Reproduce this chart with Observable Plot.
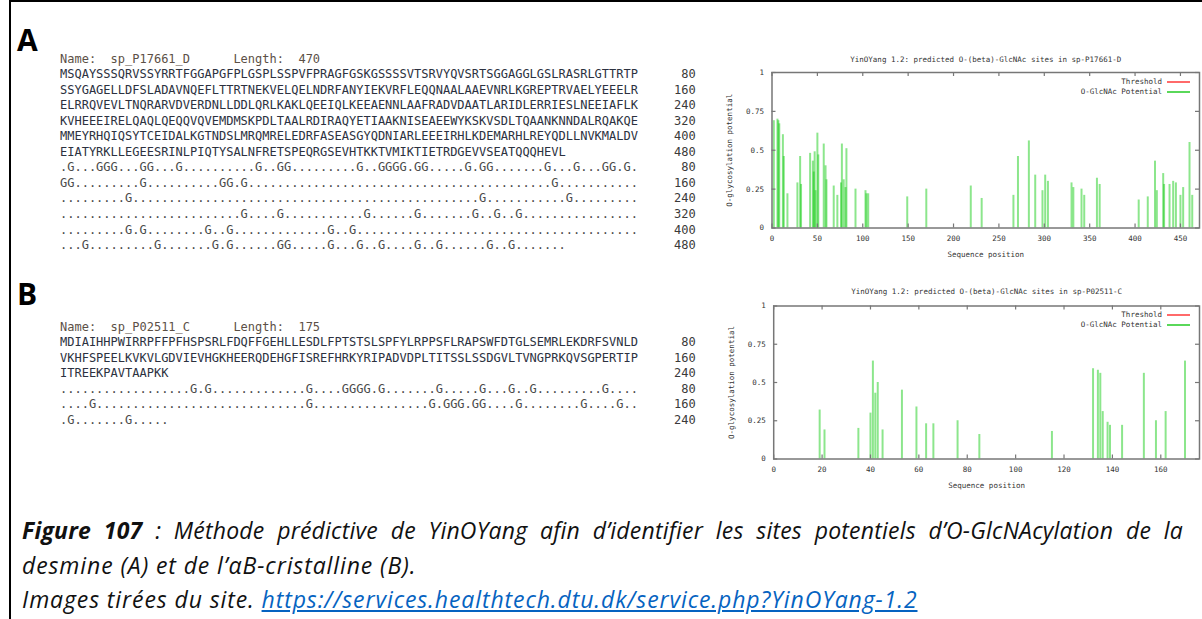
<!DOCTYPE html>
<html><head><meta charset="utf-8">
<script src="https://cdn.jsdelivr.net/npm/d3@7"></script>
<script src="https://cdn.jsdelivr.net/npm/@observablehq/plot@0.6"></script>
<style>
body{margin:0;background:#fff;}
#page{position:relative;width:1202px;height:619px;overflow:hidden;background:#fff;}
#border{position:absolute;left:9px;top:0;width:1200px;height:700px;border-left:2px solid #000;border-top:2px solid #000;}
.seq{position:absolute;left:60px;margin:0;font-family:"DejaVu Sans Mono",monospace;font-size:12px;line-height:15.55px;white-space:pre;color:#333;}
.seq .nm{color:#5c5046;} .seq .aa{color:#2c3140;} .seq .gl{color:#4a4a4a;} .seq .num{color:#3a3a3a;}
.panel{position:absolute;left:17px;font-family:"Open Sans",sans-serif;font-weight:700;font-size:30px;line-height:30px;color:#000;}
.chart{position:absolute;left:720px;}
.legt{position:absolute;right:40px;font-family:"DejaVu Sans Mono",monospace;font-size:7.5px;line-height:10px;color:#333;text-align:right;white-space:nowrap;}
.legl{position:absolute;left:1167px;width:23px;height:2px;z-index:5;}
.cap{position:absolute;left:22px;font-family:"Open Sans",sans-serif;font-style:italic;font-size:23px;letter-spacing:0.9px;line-height:35px;color:#111;white-space:nowrap;}
.cap a{color:#0563c1;text-decoration:underline;}
</style></head>
<body><div id="page"><div id="border"></div></div>
<script>
// ---------- data ----------
const nameA = "Name:  sp_P17661_D      Length:  470";
const seqA = [
  "MSQAYSSSQRVSSYRRTFGGAPGFPLGSPLSSPVFPRAGFGSKGSSSSVTSRVYQVSRTSGGAGGLGSLRASRLGTTRTP",
  "SSYGAGELLDFSLADAVNQEFLTTRTNEKVELQELNDRFANYIEKVRFLEQQNAALAAEVNRLKGREPTRVAELYEEELR",
  "ELRRQVEVLTNQRARVDVERDNLLDDLQRLKAKLQEEIQLKEEAENNLAAFRADVDAATLARIDLERRIESLNEEIAFLK",
  "KVHEEEIRELQAQLQEQQVQVEMDMSKPDLTAALRDIRAQYETIAAKNISEAEEWYKSKVSDLTQAANKNNDALRQAKQE",
  "MMEYRHQIQSYTCEIDALKGTNDSLMRQMRELEDRFASEASGYQDNIARLEEEIRHLKDEMARHLREYQDLLNVKMALDV",
  "EIATYRKLLEGEESRINLPIQTYSALNFRETSPEQRGSEVHTKKTVMIKTIETRDGEVVSEATQQQHEVL"
];
const glycA = [
  ".G...GGG...GG...G..........G..GG.........G..GGGG.GG.....G.GG.......G...G...GG.G.",
  "GG.........G..........GG.G..........................................G...........",
  ".........G................................................G...........G.........",
  ".........................G....G...........G......G.......G..G..G................",
  ".........G.G........G..G.............G..G.......................................",
  "...G.........G.......G.G......GG.....G...G..G....G..G......G..G......."
];
const rowNumsA = [80, 160, 240, 320, 400, 480];

const nameB = "Name:  sp_P02511_C      Length:  175";
const seqB = [
  "MDIAIHHPWIRRPFFPFHSPSRLFDQFFGEHLLESDLFPTSTSLSPFYLRPPSFLRAPSWFDTGLSEMRLEKDRFSVNLD",
  "VKHFSPEELKVKVLGDVIEVHGKHEERQDEHGFISREFHRKYRIPADVDPLTITSSLSSDGVLTVNGPRKQVSGPERTIP",
  "ITREEKPAVTAAPKK"
];
const glycB = [
  "..................G.G.............G....GGGG.G.......G.....G...G..G.........G....",
  "....G.............................G................G.GGG.GG....G........G....G..",
  ".G.......G....."
];
const rowNumsB = [80, 160, 240];

// Chart A: desmin, potentials per S/T position
const posA = [2,6,7,8,12,13,17,28,31,32,42,45,46,47,48,50,51,57,59,60,68,72,76,77,79,81,82,92,103,104,106,149,170,219,231,266,271,283,290,298,301,304,330,332,341,344,358,361,404,414,422,424,431,432,438,442,445,450,453,460,463];
const valA = [0.69,0.70,0.69,0.67,0.60,0.46,0.22,0.29,0.46,0.28,0.48,0.43,0.36,0.49,0.24,0.61,0.47,0.54,0.40,0.31,0.27,0.21,0.29,0.54,0.31,0.26,0.51,0.25,0.24,0.22,0.22,0.20,0.25,0.27,0.19,0.21,0.46,0.56,0.34,0.24,0.34,0.30,0.29,0.26,0.25,0.21,0.32,0.28,0.18,0.20,0.43,0.24,0.35,0.28,0.28,0.30,0.29,0.21,0.26,0.55,0.21];
const xTicksA = [0,50,100,150,200,250,300,350,400,450];

// Chart B: alphaB-crystallin
const posB = [19,21,35,40,41,42,43,45,53,59,63,66,76,85,115,132,134,135,136,138,139,144,153,158,162,170];
const valB = [0.32,0.19,0.20,0.30,0.64,0.43,0.50,0.19,0.45,0.34,0.23,0.23,0.25,0.16,0.18,0.59,0.58,0.56,0.31,0.24,0.22,0.22,0.56,0.25,0.31,0.64];
const xTicksB = [0,20,40,60,80,100,120,140,160];

const yTicks = [0,0.25,0.5,0.75,1];
const titleA = "YinOYang 1.2: predicted O-(beta)-GlcNAc sites in sp-P17661-D";
const titleB = "YinOYang 1.2: predicted O-(beta)-GlcNAc sites in sp-P02511-C";
const xLabel = "Sequence position";
const yLabel = "O-glycosylation potential";
const legendLabels = ["Threshold", "O-GlcNAc Potential"];
const legendColors = ["#ff6a6a", "#5ad85a"];

// ---------- build ----------
const page = document.getElementById("page");
function esc(s){return s.replace(/&/g,"&amp;").replace(/</g,"&lt;");}
function seqBlock(name, seqs, glyc, nums, top){
  const rows = [`<span class="nm">${esc(name)}</span>`];
  seqs.forEach((s,i)=>rows.push(`<span class="aa">${s.padEnd(80)}</span><span class="num">${String(nums[i]).padStart(8)}</span>`));
  glyc.forEach((s,i)=>rows.push(`<span class="gl">${s.padEnd(80)}</span><span class="num">${String(nums[i]).padStart(8)}</span>`));
  const pre = document.createElement("pre");
  pre.className = "seq"; pre.style.top = top + "px";
  pre.innerHTML = rows.join("\n");
  page.appendChild(pre);
}
seqBlock(nameA, seqA, glycA, rowNumsA, 51.5);
seqBlock(nameB, seqB, glycB, rowNumsB, 319.5);

function addDiv(cls, html, style){
  const d = document.createElement("div"); d.className = cls; d.innerHTML = html;
  Object.assign(d.style, style); page.appendChild(d); return d;
}
addDiv("panel", "A", {top: "25px"});
addDiv("panel", "B", {top: "279px"});

function chart({pos, val, xmax, xticks, title, top, ml, mt, mb, titleDy}){
  const W = 482, H = 225, mr = 3;
  const ph = H - mt - mb, pw = W - ml - mr;
  const data = pos.map((p,i)=>({p, v: val[i]}));
  const col = "#777";
  const fmt = d => String(d);
  const svg = Plot.plot({
    width: W, height: H, marginLeft: ml, marginRight: mr, marginTop: mt, marginBottom: mb,
    style: {fontFamily: "DejaVu Sans Mono, monospace", fontSize: "7.5px", background: "transparent", color: "#333"},
    x: {domain: [0, xmax], axis: null},
    y: {domain: [0, 1], axis: null},
    marks: [
      Plot.ruleX(data, {x: "p", y1: 0, y2: "v", stroke: "#00c800", strokeOpacity: 0.45, strokeWidth: 2}),
      Plot.frame({stroke: col, strokeWidth: 1.5}),
      Plot.tickX(xticks, {x: d=>d, insetTop: ph-4, stroke: col, strokeWidth: 1.2}),
      Plot.tickX(xticks, {x: d=>d, insetBottom: ph-4, stroke: col, strokeWidth: 1.2}),
      Plot.tickY(yTicks, {y: d=>d, insetRight: pw-4, stroke: col, strokeWidth: 1.2}),
      Plot.tickY(yTicks, {y: d=>d, insetLeft: pw-4, stroke: col, strokeWidth: 1.2}),
      Plot.text(xticks, {x: d=>d, frameAnchor: "bottom", dy: 12.5, text: fmt, fill: "#333"}),
      Plot.text(yTicks, {y: d=>d, frameAnchor: "left", dx: -8, textAnchor: "end", text: fmt, fill: "#333"}),
      Plot.text([title], {frameAnchor: "top", dy: titleDy, text: d=>d, fill: "#333"}),
      Plot.text([xLabel], {frameAnchor: "bottom", dy: 28.5, text: d=>d, fill: "#333"}),
      Plot.text([yLabel], {frameAnchor: "left", dx: -42, rotate: -90, textAnchor: "middle", text: d=>d, fill: "#333"})
    ]
  });
  const wrap = document.createElement("div");
  wrap.className = "chart"; wrap.style.top = top + "px";
  wrap.appendChild(svg); page.appendChild(wrap);
  // legend
  legendLabels.forEach((lab,i)=>{
    const y = Math.round(top + mt + 9.5 + i*10);
    addDiv("legt", lab, {top: (y-5) + "px"});
    addDiv("legl", "", {top: (y-1) + "px", backgroundColor: legendColors[i]});
  });
}
chart({pos: posA, val: valA, xmax: 471, xticks: xTicksA, title: titleA, top: 40, ml: 51.5, mt: 32, mb: 37.5, titleDy: -16.3});
chart({pos: posB, val: valB, xmax: 176, xticks: xTicksB, title: titleB, top: 272, ml: 53.2, mt: 33.5, mb: 38.5, titleDy: -17.2});

// caption
addDiv("cap", `<b>Figure 107</b> : Méthode prédictive de YinOYang afin d’identifier les sites potentiels d’O-GlcNAcylation de la`,
  {top: "513px", width: "1161px", textAlign: "justify", textAlignLast: "justify", whiteSpace: "normal", letterSpacing: "0.2px"});
addDiv("cap", `desmine (A) et de l’αB-cristalline (B).`, {top: "548px"});
addDiv("cap", `Images tirées du site. <a>https://services.healthtech.dtu.dk/service.php?YinOYang-1.2</a>`, {top: "582px"});
</script>
</body></html>
